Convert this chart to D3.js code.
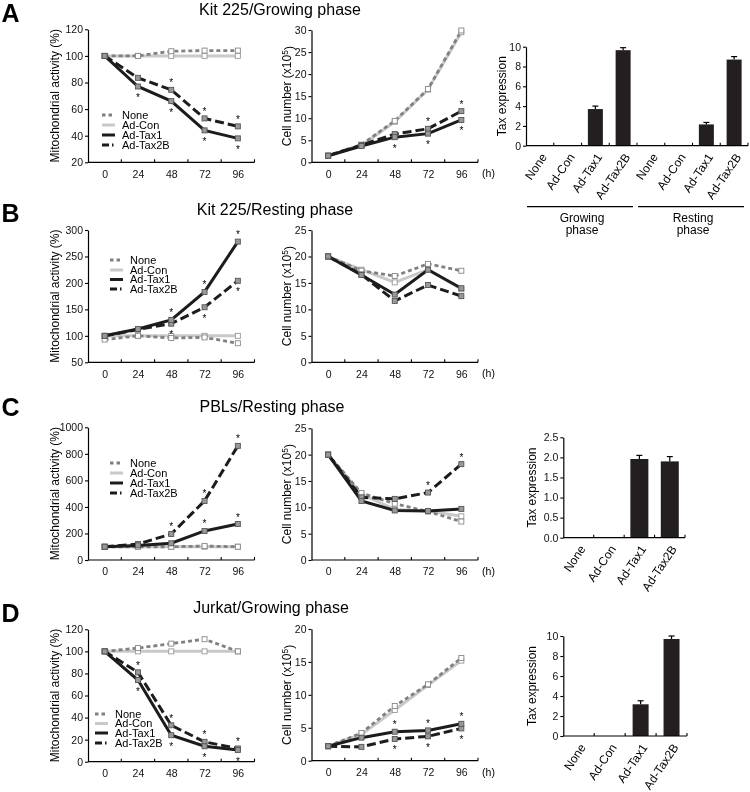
<!DOCTYPE html>
<html><head><meta charset="utf-8">
<script src="https://cdn.jsdelivr.net/npm/d3@7"></script>
<style>
body{margin:0;background:#fff;}
svg{display:block;font-family:"Liberation Sans",Arial,Helvetica,sans-serif;will-change:transform;}
</style></head><body>
<svg id="chart" width="750" height="792"></svg>
<script>
// ---------- DATA ----------
const times = [0, 24, 48, 72, 96];
const seriesNames = ["None", "Ad-Con", "Ad-Tax1", "Ad-Tax2B"];

// A: Kit 225 / Growing phase
const aMitoNone  = [100, 100, 103.5, 104, 104];
const aMitoCon   = [100, 100, 100, 100, 100];
const aMitoTax1  = [100, 77, 66, 44, 38];
const aMitoTax2B = [100, 83.5, 74.5, 53, 47];
const aCellNone  = [1.5, 4.0, 9.4, 16.6, 29.9];
const aCellCon   = [1.5, 3.8, 9.2, 16.5, 29.5];
const aCellTax1  = [1.5, 3.7, 5.7, 6.5, 9.6];
const aCellTax2B = [1.5, 3.9, 6.4, 7.6, 11.6];

// B: Kit 225 / Resting phase
const bMitoNone  = [93, 100, 96, 97, 86];
const bMitoCon   = [100, 100, 100, 100, 100];
const bMitoTax1  = [100, 113, 130, 183, 278];
const bMitoTax2B = [100, 112, 123, 154, 204];
const bCellNone  = [20, 17.3, 16.3, 18.6, 17.3];
const bCellCon   = [20, 17.5, 15.1, 17.5, 13.8];
const bCellTax1  = [20, 16.5, 12.8, 17.5, 14.0];
const bCellTax2B = [20, 16.6, 11.6, 14.6, 12.5];

// C: PBLs / Resting phase
const cMitoNone  = [100, 100, 100, 105, 100];
const cMitoCon   = [100, 100, 100, 100, 100];
const cMitoTax1  = [100, 110, 126, 219, 271];
const cMitoTax2B = [100, 120, 196, 445, 860];
const cCellNone  = [20, 12.7, 10.7, 9.2, 7.3];
const cCellCon   = [20, 12.5, 9.6, 9.3, 8.3];
const cCellTax1  = [20, 11.2, 9.4, 9.3, 9.7];
const cCellTax2B = [20, 11.9, 11.6, 12.8, 18.2];

// D: Jurkat / Growing phase
const dMitoNone  = [100, 103, 107, 111, 100];
const dMitoCon   = [100, 100, 100, 100, 100];
const dMitoTax1  = [100, 74, 24, 14, 10.6];
const dMitoTax2B = [100, 81, 33, 18, 12];
const dCellNone  = [2.2, 4.2, 8.3, 11.6, 15.6];
const dCellCon   = [2.2, 4.0, 7.7, 11.5, 15.2];
const dCellTax1  = [2.2, 3.5, 4.4, 4.6, 5.6];
const dCellTax2B = [2.2, 2.1, 3.3, 3.7, 4.9];

// significance stars: [series index, time index, -1 above / +1 below]
const aMitoStars = [[2,1,1],[3,2,-1],[2,2,1],[3,3,-1],[2,3,1],[3,4,-1],[2,4,1]];
const aCellStars = [[2,2,1],[3,3,-1],[2,3,1],[3,4,-1],[2,4,1]];
const bMitoStars = [[2,2,-1],[3,2,1],[2,3,-1],[3,3,1],[2,4,-1],[3,4,1]];
const bCellStars = [];
const cMitoStars = [[3,2,-1],[3,3,-1],[2,3,-1],[3,4,-1],[2,4,-1]];
const cCellStars = [[3,3,-1],[3,4,-1]];
const dMitoStars = [[3,1,-1],[2,1,1],[3,2,-1],[2,2,1],[3,3,-1],[2,3,1],[3,4,-1],[2,4,1]];
const dCellStars = [[2,2,-1],[3,2,1],[2,3,-1],[3,3,1],[2,4,-1],[3,4,1]];

// Tax expression bars
const barCatsA = ["None", "Ad-Con", "Ad-Tax1", "Ad-Tax2B", "None", "Ad-Con", "Ad-Tax1", "Ad-Tax2B"];
const barValsA = [0, 0, 3.7, 9.65, 0, 0, 2.15, 8.7];
const barErrA  = [0, 0, 0.3, 0.25, 0, 0, 0.2, 0.3];
const groupLabelsA = [["Growing", "phase"], ["Resting", "phase"]];
const groupSpansA = [[0, 3], [4, 7]];
const barCatsC = ["None", "Ad-Con", "Ad-Tax1", "Ad-Tax2B"];
const barValsC = [0, 0, 1.96, 1.9];
const barErrC  = [0, 0, 0.09, 0.12];
const barCatsD = ["None", "Ad-Con", "Ad-Tax1", "Ad-Tax2B"];
const barValsD = [0, 0, 3.17, 9.7];
const barErrD  = [0, 0, 0.35, 0.3];

const titles = ["Kit 225/Growing phase", "Kit 225/Resting phase", "PBLs/Resting phase", "Jurkat/Growing phase"];
const letters = ["A", "B", "C", "D"];

// ---------- STYLE ----------
const lineStyles = [
  {stroke: "#808080", dash: "4,3", w: 2.8, mFill: "#fff", mStroke: "#888"},
  {stroke: "#c9c9c9", dash: null, w: 3, mFill: "#fff", mStroke: "#999"},
  {stroke: "#1c1c1c", dash: null, w: 3, mFill: "#999", mStroke: "#555"},
  {stroke: "#1c1c1c", dash: "9,4", w: 3, mFill: "#999", mStroke: "#555"}
];
const drawOrder = [1, 0, 3, 2];
const svg = d3.select("#chart");
const FONT_TICK = 10.5;

function styleAxis(g) {
  g.selectAll("path.domain").attr("stroke", "#000").attr("stroke-width", 1.2);
  g.selectAll(".tick line").attr("stroke", "#000").attr("stroke-width", 1.1);
  g.selectAll("text").attr("font-size", FONT_TICK).attr("fill", "#111")
    .attr("font-family", '"Liberation Sans",Arial,sans-serif');
}

function linePanel(o) {
  const x = d3.scaleLinear().domain([-12, 108]).range([o.x0, o.x0 + 166.5]);
  const y = d3.scaleLinear().domain(o.domain).range([o.yBot, o.yTop]);
  const g = svg.append("g");
  const yAx = g.append("g").attr("transform", `translate(${o.x0},0)`)
    .call(d3.axisLeft(y).tickValues(d3.range(o.domain[0], o.domain[1] + o.step / 2, o.step))
      .tickSize(3).tickPadding(2).tickSizeOuter(0).tickFormat(d3.format("d")));
  styleAxis(yAx);
  const xAx = g.append("g").attr("transform", `translate(0,${o.yBot})`)
    .call(d3.axisBottom(x).tickValues(times).tickSize(0).tickPadding(8).tickSizeOuter(0));
  styleAxis(xAx);
  xAx.select("path.domain").attr("d", `M${x(-12)},0H${x(108)}`);
  g.selectAll("line.minor").data([12, 36, 60, 84, 108]).join("line")
    .attr("x1", d => x(d)).attr("x2", d => x(d))
    .attr("y1", o.yBot).attr("y2", o.yBot - 3).attr("stroke", "#000").attr("stroke-width", 1.1);

  const line = d3.line().x((d, i) => x(times[i])).y(d => y(d));
  drawOrder.forEach(si => {
    const s = lineStyles[si];
    g.append("path").datum(o.values[si]).attr("d", line).attr("fill", "none")
      .attr("stroke", s.stroke).attr("stroke-width", s.w)
      .attr("stroke-dasharray", s.dash).attr("stroke-linejoin", "miter");
  });
  drawOrder.forEach(si => {
    const s = lineStyles[si];
    g.selectAll(null).data(o.values[si]).join("rect")
      .attr("x", (d, i) => x(times[i]) - 2.5).attr("y", d => y(d) - 2.5)
      .attr("width", 5).attr("height", 5)
      .attr("fill", s.mFill).attr("stroke", s.mStroke).attr("stroke-width", 0.9);
  });
  g.selectAll("text.star").data(o.stars).join("text")
    .attr("x", d => x(times[d[1]]))
    .attr("y", d => y(o.values[d[0]][d[1]]) + d[2] * 9 + 5.5)
    .attr("text-anchor", "middle").attr("font-size", 10).attr("fill", "#000").text("*");

  const ly = (o.yTop + o.yBot) / 2;
  const lab = g.append("text").attr("transform", `translate(${o.labelX},${ly}) rotate(-90)`)
    .attr("text-anchor", "middle").attr("dy", "0.35em").attr("font-size", 12);
  if (o.cell) {
    lab.append("tspan").text("Cell number (x10");
    lab.append("tspan").attr("dy", "-0.4em").attr("font-size", 8.5).text("5");
    lab.append("tspan").attr("dy", "0.4em").text(")");
    g.append("text").attr("x", o.x0 + 177).attr("y", o.yBot + 15)
      .attr("font-size", FONT_TICK).attr("text-anchor", "middle").text("(h)");
  } else {
    lab.text("Mitochondrial activity (%)");
  }
  if (o.legend) {
    const L = o.legend;
    seriesNames.forEach((n, i) => {
      const s = lineStyles[i];
      const yy = L.rows[i];
      g.append("line").attr("x1", L.x).attr("x2", L.x + 13).attr("y1", yy).attr("y2", yy)
        .attr("stroke", s.stroke).attr("stroke-width", 3)
        .attr("stroke-dasharray", i === 0 ? "3.5,3" : (i === 3 ? "7,3,1.5,3" : null));
      g.append("text").attr("x", L.x + 20).attr("y", yy).attr("dy", "0.35em")
        .attr("font-size", 11).text(n);
    });
  }
}

function barPanel(o) {
  const xb = d3.scaleBand().domain(d3.range(o.cats.length)).range([o.x0, o.xEnd]);
  const y = d3.scaleLinear().domain(o.domain).range([o.yBot, o.yTop]);
  const bw = xb.bandwidth();
  const g = svg.append("g");
  const yAx = g.append("g").attr("transform", `translate(${o.x0},0)`)
    .call(d3.axisLeft(y).tickValues(d3.range(o.domain[0], o.domain[1] + o.step / 2, o.step))
      .tickSize(3).tickPadding(2).tickSizeOuter(0).tickFormat(d3.format(o.fmt)));
  styleAxis(yAx);
  g.selectAll("rect.bar").data(o.vals).join("rect")
    .attr("x", (d, i) => xb(i) + bw / 2 - o.barW / 2).attr("y", d => y(d))
    .attr("width", o.barW).attr("height", d => o.yBot - y(d)).attr("fill", "#231f20");
  o.vals.forEach((v, i) => {
    if (v <= 0) return;
    const cx = xb(i) + bw / 2, t = y(v + o.errs[i]);
    g.append("line").attr("x1", cx).attr("x2", cx).attr("y1", y(v)).attr("y2", t)
      .attr("stroke", "#000").attr("stroke-width", 1.2);
    g.append("line").attr("x1", cx - 3).attr("x2", cx + 3).attr("y1", t).attr("y2", t)
      .attr("stroke", "#000").attr("stroke-width", 1.2);
  });
  g.append("line").attr("x1", o.x0).attr("x2", o.xEnd).attr("y1", o.yBot).attr("y2", o.yBot)
    .attr("stroke", "#000").attr("stroke-width", 1.2);
  g.selectAll("line.bt").data(d3.range(1, o.cats.length + 1)).join("line")
    .attr("x1", d => o.x0 + d * bw).attr("x2", d => o.x0 + d * bw)
    .attr("y1", o.yBot).attr("y2", o.yBot - 3).attr("stroke", "#000").attr("stroke-width", 1.1);
  g.selectAll("text.cat").data(o.cats).join("text")
    .attr("transform", (d, i) => `translate(${xb(i) + bw / 2 + 4},${o.yBot + 9}) rotate(-56)`)
    .attr("text-anchor", "end").attr("dy", "0.35em").attr("font-size", 12).text(d => d);
  g.append("text").attr("transform", `translate(${o.labelX},${(o.yTop + o.yBot) / 2}) rotate(-90)`)
    .attr("text-anchor", "middle").attr("dy", "0.35em").attr("font-size", 12).text("Tax expression");
  if (o.groups) {
    o.groups.spans.forEach((sp, k) => {
      const a = xb(sp[0]) + 1, b = xb(sp[1]) + bw - 4;
      g.append("line").attr("x1", a).attr("x2", b).attr("y1", o.groups.y).attr("y2", o.groups.y)
        .attr("stroke", "#000").attr("stroke-width", 1.2);
      o.groups.labels[k].forEach((t, j) => {
        g.append("text").attr("x", (a + b) / 2 + 2).attr("y", o.groups.y + 15 + j * 12.5)
          .attr("text-anchor", "middle").attr("font-size", 12).text(t);
      });
    });
  }
}

// ---------- TITLES ----------
const titleX = [280, 275, 272, 271];
const titleY = [15, 215, 412, 613];
const letterY = [22, 222, 416, 622];
titles.forEach((t, i) => {
  svg.append("text").attr("x", titleX[i]).attr("y", titleY[i]).attr("text-anchor", "middle")
    .attr("font-size", 16).text(t);
  svg.append("text").attr("x", 1.5).attr("y", letterY[i]).attr("font-size", 25)
    .attr("font-weight", "bold").text(letters[i]);
});

// ---------- PANELS ----------
const MX = 88, CX = 311.5, MLX = 55, CLX = 287;
linePanel({x0: MX, yTop: 29.3, yBot: 162.3, domain: [20, 120], step: 20, labelX: MLX,
  values: [aMitoNone, aMitoCon, aMitoTax1, aMitoTax2B], stars: aMitoStars,
  legend: {x: 102, rows: [115, 125, 135, 145]}});
linePanel({x0: CX, yTop: 30, yBot: 162.3, domain: [0, 30], step: 5, labelX: CLX, cell: true,
  values: [aCellNone, aCellCon, aCellTax1, aCellTax2B], stars: aCellStars});

linePanel({x0: MX, yTop: 230, yBot: 362.3, domain: [50, 300], step: 50, labelX: MLX,
  values: [bMitoNone, bMitoCon, bMitoTax1, bMitoTax2B], stars: bMitoStars,
  legend: {x: 110, rows: [260, 270, 279.5, 289]}});
linePanel({x0: CX, yTop: 230, yBot: 362.3, domain: [0, 25], step: 5, labelX: CLX, cell: true,
  values: [bCellNone, bCellCon, bCellTax1, bCellTax2B], stars: bCellStars});

linePanel({x0: MX, yTop: 427.3, yBot: 560, domain: [0, 1000], step: 200, labelX: MLX,
  values: [cMitoNone, cMitoCon, cMitoTax1, cMitoTax2B], stars: cMitoStars,
  legend: {x: 110, rows: [463, 473, 483, 493]}});
linePanel({x0: CX, yTop: 428.3, yBot: 560, domain: [0, 25], step: 5, labelX: CLX, cell: true,
  values: [cCellNone, cCellCon, cCellTax1, cCellTax2B], stars: cCellStars});

linePanel({x0: MX, yTop: 629.3, yBot: 761.7, domain: [0, 120], step: 20, labelX: MLX,
  values: [dMitoNone, dMitoCon, dMitoTax1, dMitoTax2B], stars: dMitoStars,
  legend: {x: 95, rows: [714, 723.5, 733, 743]}});
linePanel({x0: CX, yTop: 629, yBot: 760.7, domain: [0, 20], step: 5, labelX: CLX, cell: true,
  values: [dCellNone, dCellCon, dCellTax1, dCellTax2B], stars: dCellStars});

barPanel({cats: barCatsA, vals: barValsA, errs: barErrA, x0: 526, xEnd: 748, yTop: 46.7, yBot: 145.7,
  domain: [0, 10], step: 2, fmt: "d", barW: 15, labelX: 502,
  groups: {y: 206.7, spans: groupSpansA, labels: groupLabelsA}});
barPanel({cats: barCatsC, vals: barValsC, errs: barErrC, x0: 563.3, xEnd: 685, yTop: 437.3, yBot: 537.7,
  domain: [0, 2.5], step: 0.5, fmt: ".1f", barW: 18, labelX: 532});
barPanel({cats: barCatsD, vals: barValsD, errs: barErrD, x0: 563.3, xEnd: 687, yTop: 636, yBot: 736,
  domain: [0, 10], step: 2, fmt: "d", barW: 16, labelX: 532});
</script>
</body></html>
